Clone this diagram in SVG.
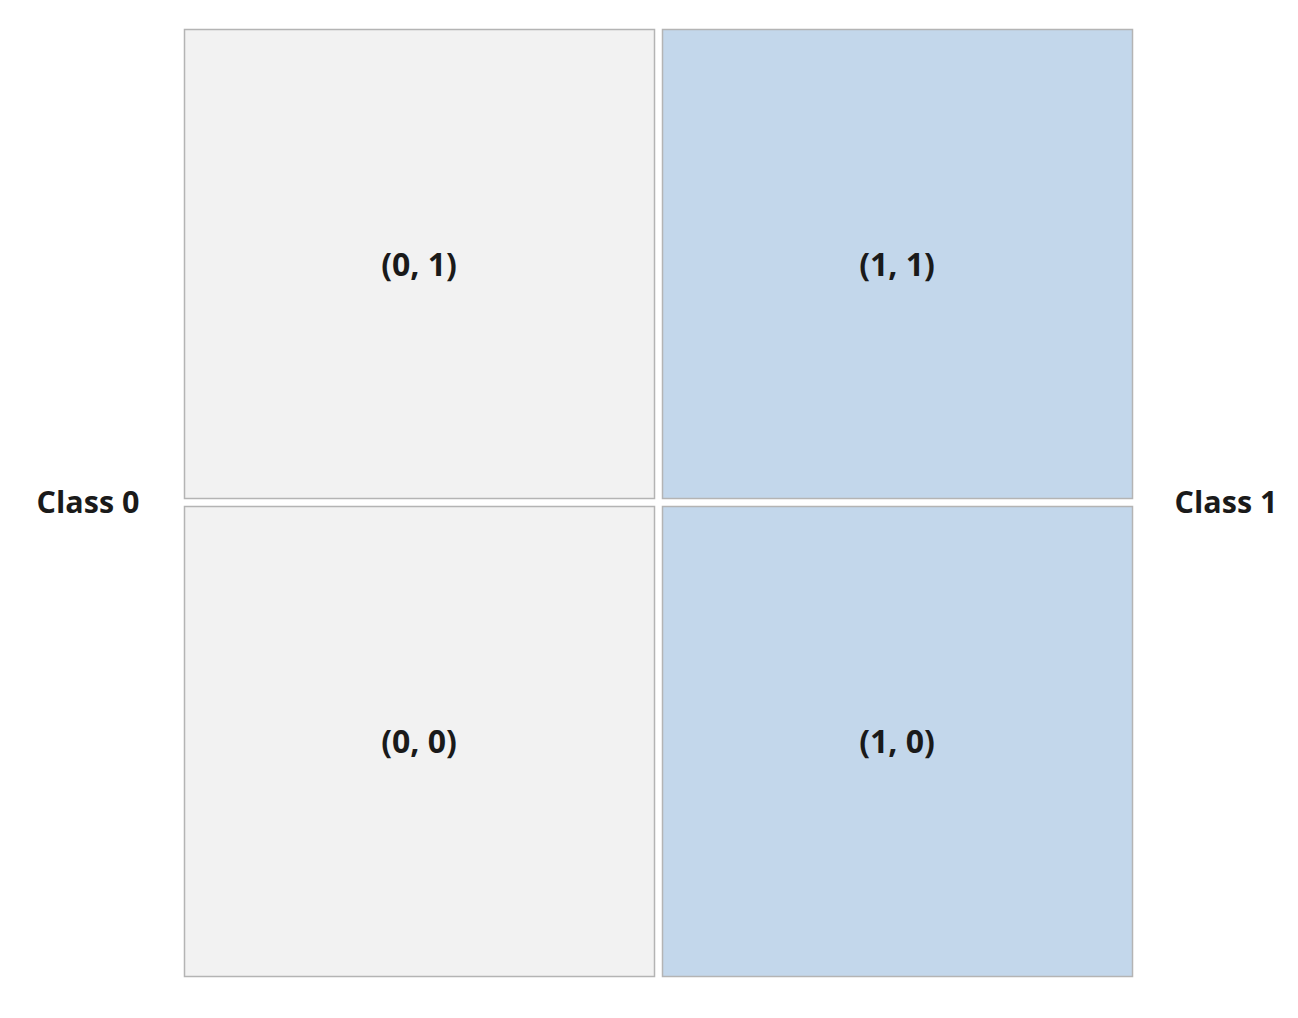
<svg xmlns="http://www.w3.org/2000/svg" width="1298" height="1018" viewBox="0 0 1298 1018">
<style>
.cell{stroke:#b4b4b4;stroke-width:1.5}
.c0{fill:#f2f2f2}
.c1{fill:#c3d7eb}
text{font-family:"Open Sans","Liberation Sans",sans-serif;font-weight:bold;fill:#1a1a1a;text-anchor:middle}
.v{font-size:32px}
.lab{font-size:30.5px}
</style>
<rect width="1298" height="1018" fill="#ffffff"/>
<g id="cell01"><rect class="cell c0" x="184.5" y="29.5" width="470" height="469"/><text class="v" x="419" y="276">(0, 1)</text></g>
<g id="cell11"><rect class="cell c1" x="662.5" y="29.5" width="470" height="469"/><text class="v" x="897" y="276">(1, 1)</text></g>
<g id="cell00"><rect class="cell c0" x="184.5" y="506.5" width="470" height="470"/><text class="v" x="419" y="753">(0, 0)</text></g>
<g id="cell10"><rect class="cell c1" x="662.5" y="506.5" width="470" height="470"/><text class="v" x="897" y="753">(1, 0)</text></g>
<g id="label0"><text class="lab" x="88" y="513">Class 0</text></g>
<g id="label1"><text class="lab" x="1226" y="513">Class 1</text></g>
<g id="connectors"></g>
</svg>
